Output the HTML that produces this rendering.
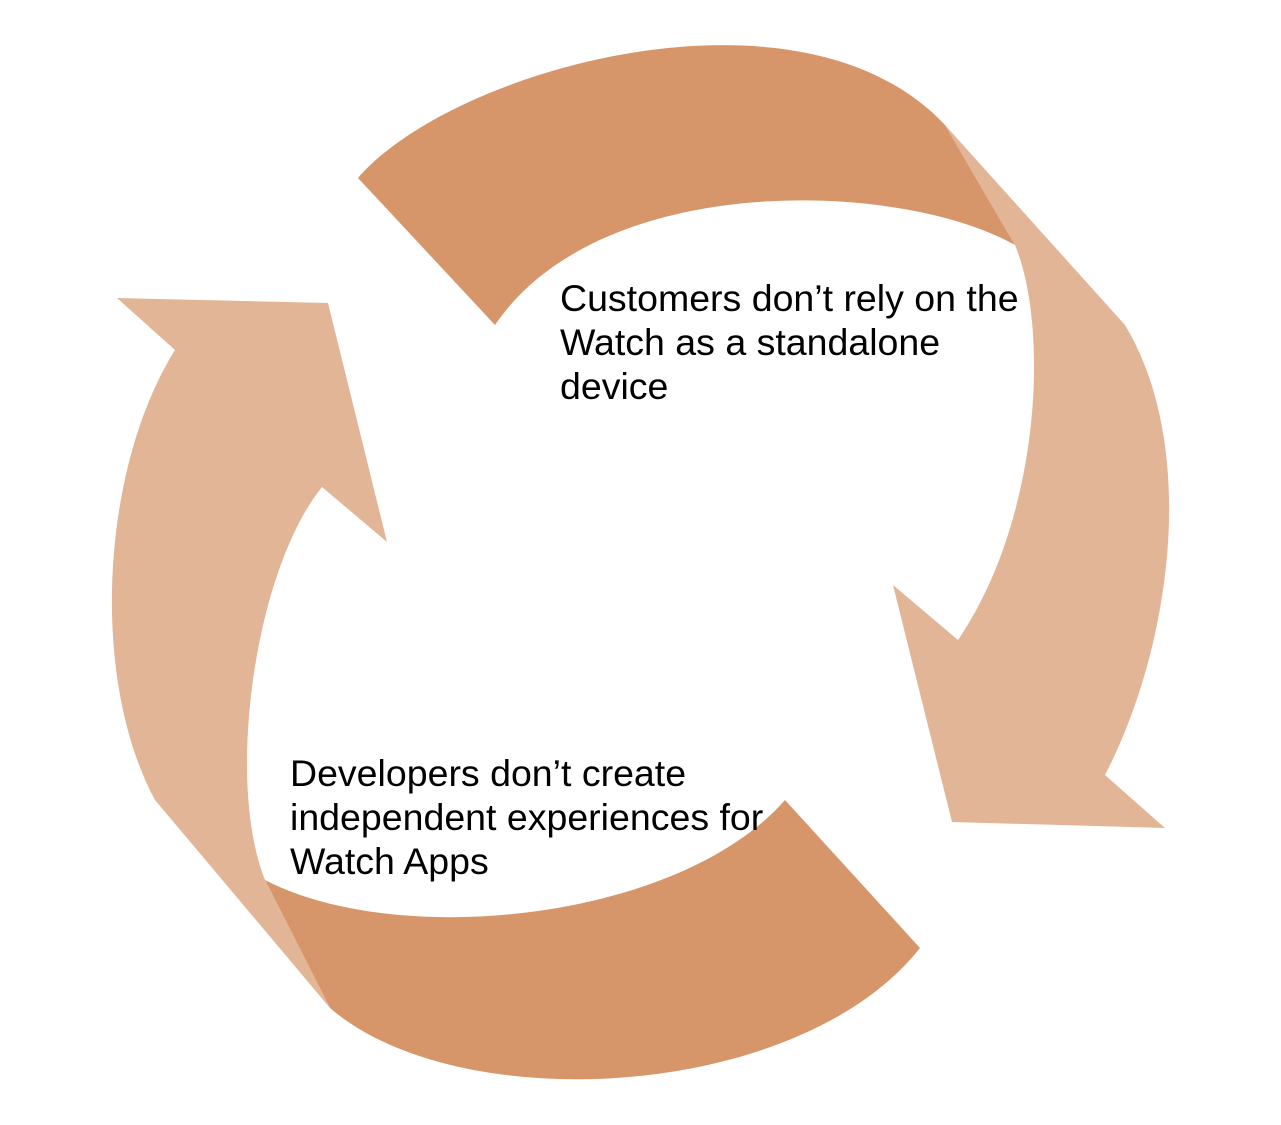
<!DOCTYPE html>
<html><head><style>
html,body{margin:0;padding:0;background:#fff;}
svg{display:block;}
text{font-family:"Liberation Sans",Arial,sans-serif;font-size:37.5px;fill:#000;}
</style></head><body>
<svg width="1281" height="1125" viewBox="0 0 1281 1125">
<path d="M358,178 C450,70 800,-30 945,125 L1015,245 C900,180 600,170 495,325 Z" fill="#D7956A"/>
<path d="M785,800 L920,948 C800,1100 460,1120 330,1008 L265,880 C400,950 680,920 785,800 Z" fill="#D7956A"/>
<path d="M945,125 L1125,325 C1200,450 1170,650 1105,775 L1165,828 L952,822 L893,585 L958,640 C1040,520 1050,330 1015,245 Z" fill="#E2B597"/>
<path d="M330,1008 L155,800 C90,680 100,470 175,350 L117,298 L328,303 L387,542 L322,487 C255,570 225,780 265,880 Z" fill="#E2B597"/>
<text x="560" y="311">Customers don’t rely on the</text>
<text x="560" y="355">Watch as a standalone</text>
<text x="560" y="399">device</text>
<text x="290" y="786">Developers don’t create</text>
<text x="290" y="830">independent experiences for</text>
<text x="290" y="874">Watch Apps</text>
</svg>
</body></html>
